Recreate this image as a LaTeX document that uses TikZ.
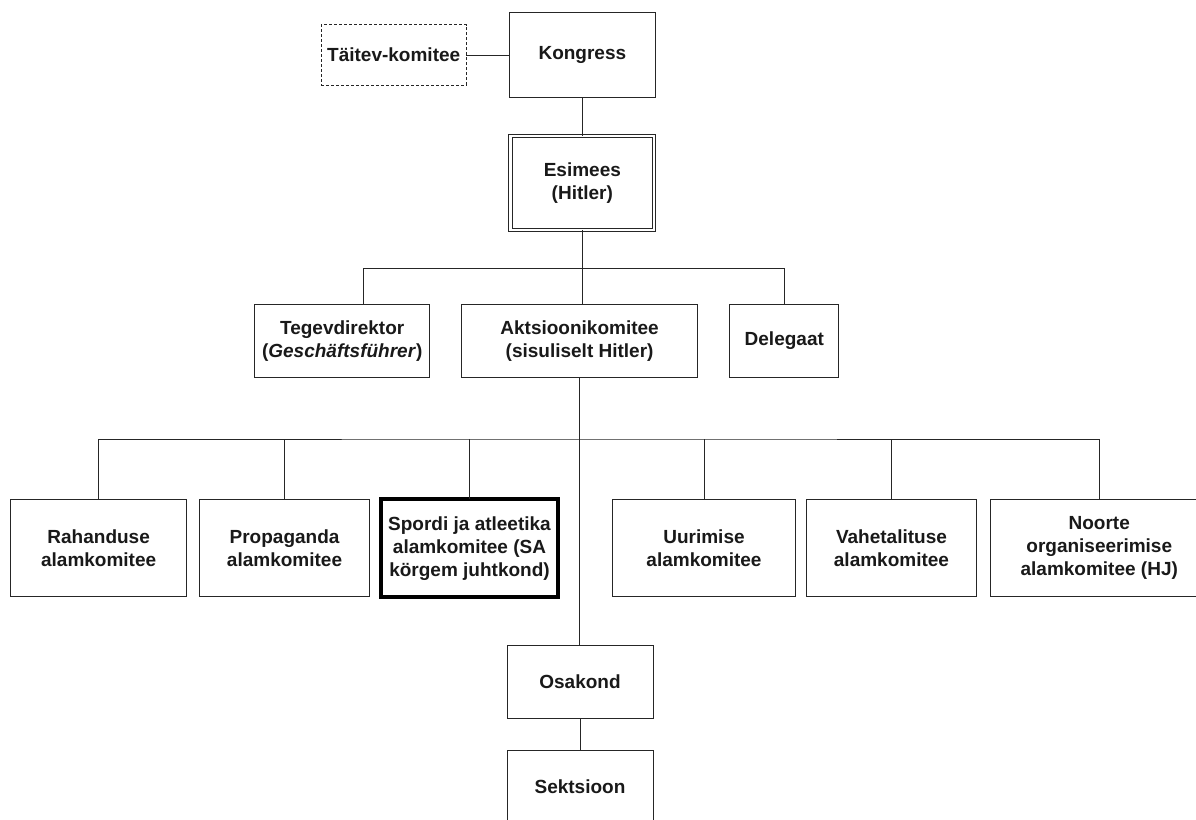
\documentclass[tikz,border=0pt]{standalone}
\usepackage{fontspec}
\setmainfont{Liberation Sans}
\usetikzlibrary{positioning}
\tikzset{
  orgbox/.style={draw=black!85, line width=1pt, fill=white, rectangle, inner sep=0pt, outer sep=0pt,
    align=center, text=black!90, font=\bfseries\fontsize{19}{23}\selectfont},
  conn/.style={draw=black!85, line width=1pt},
}
\newcommand{\bx}[6]{% name, x1, y1, x2, y2, style
  \node[orgbox, #6, minimum width={(#4-#2)*1pt}, minimum height={(#5-#3)*1pt}]
    (#1) at ({(#2+#4)/2},{(#3+#5)/2})}
\begin{document}
\begin{tikzpicture}[x=1pt, y=-1pt]
\useasboundingbox (0,0) rectangle (1196,819);
\clip (0,0) rectangle (1196,819);
\fill[white] (0,0) rectangle (1196,819);

\bx{taitev}{321.2}{24.8}{466.2}{85.2}{dash pattern=on 3pt off 2pt} {Täitev-komitee};
\bx{kong}{509.5}{12.8}{655.2}{97.2}{} {Kongress};
\bx{esi}{510.6}{136}{654.1}{230}{double=white, double distance=2.3pt} {Esimees\\(Hitler)};
\bx{teg}{254.7}{304.8}{429.7}{377.2}{} {Tegevdirektor\\(\textit{Geschäftsführer})};
\bx{akt}{461.7}{304.8}{697.5}{377.2}{} {Aktsioonikomitee\\(sisuliselt Hitler)};
\bx{del}{729.8}{304.8}{838.8}{377.2}{} {Delegaat};
\bx{rah}{10.8}{499.5}{186.5}{596.5}{} {Rahanduse\\alamkomitee};
\bx{prop}{199.9}{499.5}{369.2}{596.5}{} {Propaganda\\alamkomitee};
\bx{spo}{381}{499.3}{558}{597}{line width=4pt, draw=black} {Spordi ja atleetika\\alamkomitee (SA\\körgem juhtkond)};
\bx{uur}{612.9}{499.5}{795.1}{596.5}{} {Uurimise\\alamkomitee};
\bx{vah}{806.5}{499.5}{976.4}{596.5}{} {Vahetalituse\\alamkomitee};
\bx{noo}{990.5}{499.5}{1208}{596.5}{} {Noorte\\organiseerimise\\alamkomitee (HJ)};
\bx{osa}{507}{645.5}{653}{718.5}{} {Osakond};
\bx{sek}{507}{750.5}{653}{823.5}{} {Sektsioon};

\coordinate (b1) at (582.4,268.3);
\coordinate (b2) at (580,439);

\draw[conn] (taitev.east) -- (kong.west);
\draw[conn] (kong.south) -- (esi.south |- kong.south) -- (esi.north);
\draw[conn] (esi.south) -- (esi.south |- akt.north);
\draw[conn] ([xshift=21pt]teg.north) |- (b1) -| (del.north);
\draw[conn] (akt.south) -- (akt.south |- osa.north);
\draw[conn] (rah.north) |- (b2) -| (noo.north);
\draw[conn] (prop.north) -- (prop.north |- b2);
\draw[conn] (spo.north) -- (spo.north |- b2);
\draw[conn] (uur.north) -- (uur.north |- b2);
\draw[conn] (vah.north) -- (vah.north |- b2);
\draw[conn] (osa.south) -- (sek.north);
\end{tikzpicture}
\end{document}
